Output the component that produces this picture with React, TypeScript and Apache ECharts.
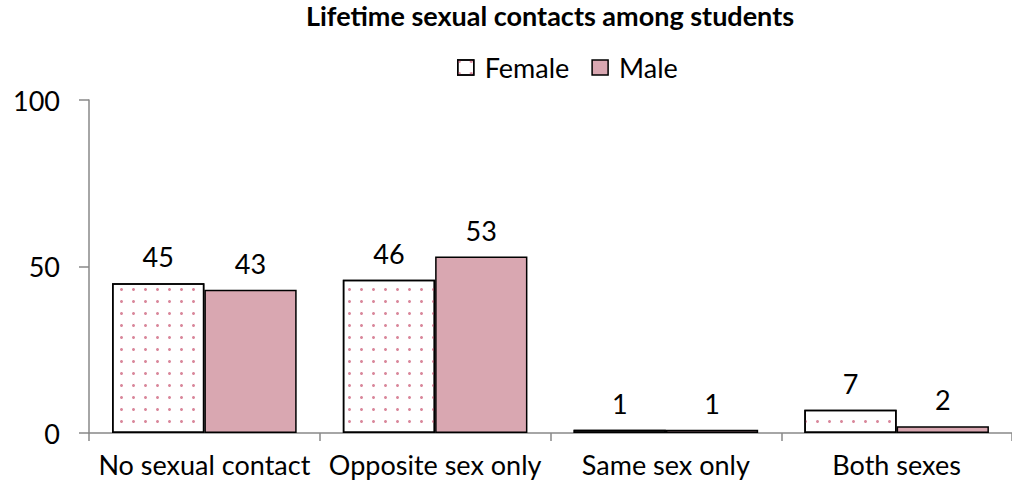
import React, { useEffect, useRef } from "react";
import * as echarts from "echarts";

const categories = ["No sexual contact", "Opposite sex only", "Same sex only", "Both sexes"];
const female = [45, 46, 1, 7];
const male = [43, 53, 1, 2];
const yTicks = [0, 50, 100];

const FONT = "Lato, 'Open Sans', sans-serif";

export default function App() {
  const ref = useRef<HTMLDivElement>(null);
  useEffect(() => {
    if (!ref.current) return;
    const chart = echarts.init(ref.current, undefined, { renderer: "svg" });
    chart.setOption({
      animation: false,
      backgroundColor: "#ffffff",
      title: {
        text: "Lifetime sexual contacts among students",
        left: 550,
        textAlign: "center",
        top: 2,
        padding: 0,
        textStyle: { fontFamily: FONT, fontSize: 27, fontWeight: "bold", color: "#000" },
      },
      legend: {
        top: 54,
        left: 457,
        padding: 0,
        icon: "rect",
        itemWidth: 16,
        itemHeight: 15,
        itemGap: 22,
        itemStyle: { borderColor: "#000", borderWidth: 1.5 },
        textStyle: { fontFamily: FONT, fontSize: 27, color: "#000", padding: [0, 0, 0, 6] },
        data: ["Female", "Male"],
      },
      grid: { left: 89, right: 0, top: 100, bottom: 54, containLabel: false },
      xAxis: {
        type: "category",
        data: categories,
        axisLine: { lineStyle: { color: "#888", width: 1.5 } },
        axisTick: { show: true, interval: 0, length: 8, lineStyle: { color: "#888", width: 1.5 } },
        axisLabel: {
          interval: 0,
          hideOverlap: false,
          fontFamily: FONT,
          fontSize: 27,
          color: "#000",
          margin: 18,
        },
      },
      yAxis: {
        type: "value",
        min: yTicks[0],
        max: yTicks[yTicks.length - 1],
        interval: 50,
        splitLine: { show: false },
        axisLine: { show: true, lineStyle: { color: "#888", width: 1.5 } },
        axisTick: { show: true, length: 10, lineStyle: { color: "#888", width: 1.5 } },
        axisLabel: { fontFamily: FONT, fontSize: 27, color: "#000", margin: 29 },
      },
      series: [
        {
          name: "Female",
          type: "bar",
          data: female,
          barCategoryGap: "20%",
          barGap: "0%",
          itemStyle: {
            color: "#ffffff",
            borderColor: "#000",
            borderWidth: 1.5,
            decal: {
              symbol: "circle",
              symbolSize: 1,
              color: "#d9879b",
              dashArrayX: [2.5, 8.5],
              dashArrayY: [2.5, 8.5],
              rotation: 0,
            },
          },
          label: {
            show: true,
            position: "top",
            distance: 13,
            fontFamily: FONT,
            fontSize: 27,
            color: "#000",
          },
        },
        {
          name: "Male",
          type: "bar",
          data: male,
          itemStyle: { color: "#d9a7b1", borderColor: "#000", borderWidth: 1.5 },
          label: {
            show: true,
            position: "top",
            distance: 13,
            fontFamily: FONT,
            fontSize: 27,
            color: "#000",
          },
        },
      ],
    });
    return () => chart.dispose();
  }, []);
  return (
    <div
      ref={ref}
      style={{ position: "fixed", left: 0, top: 0, width: 1012, height: 487, background: "#fff" }}
    />
  );
}
